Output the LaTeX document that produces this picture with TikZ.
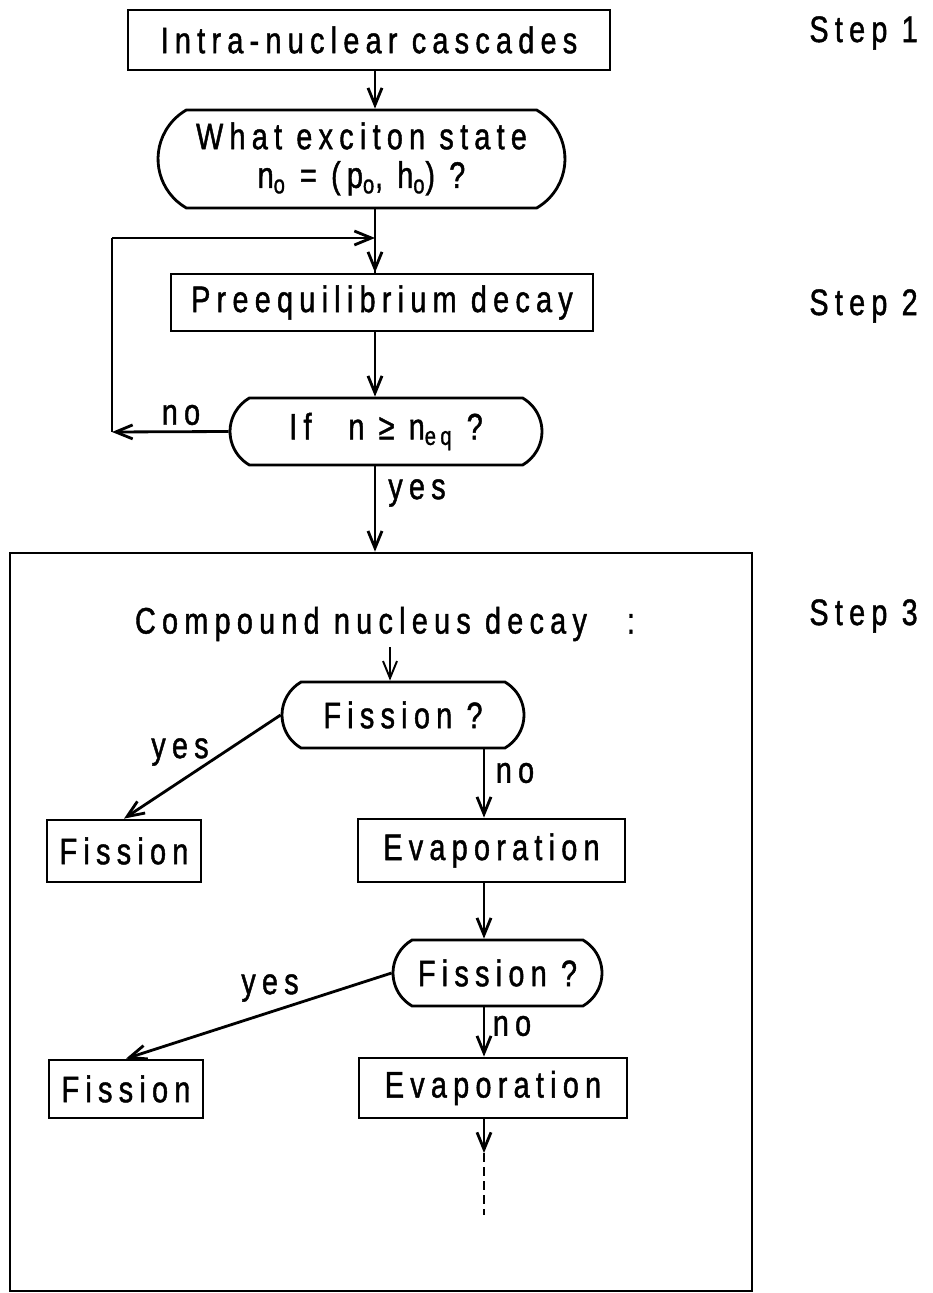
\documentclass[tikz,border=0pt]{standalone}
\usepackage{fontspec}
\setmainfont{Liberation Sans}[FakeStretch=0.78, LetterSpace=17, FakeBold=1.2]
\usetikzlibrary{positioning,arrows.meta,shapes.misc}

\begin{document}
\begin{tikzpicture}[x=0.02cm, y=-0.02cm,
  font=\fontsize{21}{22}\selectfont,
  line width=1.6pt,
  box/.style={draw, rectangle, inner sep=0pt},
  query/.style={draw, rounded rectangle, rounded rectangle arc length=120,
                inner sep=0pt, align=center},
  ar/.style={-{Straight Barb[length=3.4mm, width=2.8mm]}},
  lbl/.style={inner sep=0pt}]
\useasboundingbox (0,0) rectangle (932,1293);
\coordinate (spine) at (375,0);
\node[box, minimum width=9.64cm, minimum height=1.2cm]   (casc)  at (369,40)    {Intra-nuclear cascades};
\node[query, minimum width=8.14cm, minimum height=1.96cm] (excit) at (361.5,159) {What exciton state\\ n\textsubscript{o} = (p\textsubscript{o}, h\textsubscript{o}) ?};
\node[box, minimum width=8.44cm, minimum height=1.14cm]  (preq)  at (382,302.5) {Preequilibrium decay};
\node[query, minimum width=6.24cm, minimum height=1.34cm] (ifneq) at (386,431.5) {If\quad n ≥ n\textsubscript{eq} ?};
\node[box, minimum width=14.84cm, minimum height=14.76cm] (stage) at (381,922)  {};
\node[lbl] (cnd) at (385,624) {Compound nucleus decay\hspace{0.8cm}:};
\node[query, minimum width=4.84cm, minimum height=1.32cm] (fis1)  at (403,715)   {Fission ?};
\node[box, minimum width=3.08cm, minimum height=1.24cm]  (fbox1) at (124,851)   {Fission};
\node[box, minimum width=5.34cm, minimum height=1.26cm]  (evap1) at (491.5,850.5) {Evaporation};
\node[query, minimum width=4.18cm, minimum height=1.32cm] (fis2)  at (497.5,973) {Fission ?};
\node[box, minimum width=3.08cm, minimum height=1.16cm]  (fbox2) at (126,1089)  {Fission};
\node[box, minimum width=5.36cm, minimum height=1.2cm]   (evap2) at (493,1088)  {Evaporation};
\node[lbl, anchor=west] (step1) at (808,33)  {Step 1};
\node[lbl, anchor=west] (step2) at (808,306) {Step 2};
\node[lbl, anchor=west] (step3) at (808,616) {Step 3};
\coordinate (looptop)  at (112,238);
\coordinate (loopleft) at (112,432);
\coordinate (cndtail) at (390,647);
\coordinate (evtail) at (484,1153);
\coordinate (evend)  at (484,1215);
\draw[ar] (casc.south -| spine) -- (excit.north -| spine);
\draw (excit.south -| spine) -- (preq.north -| spine);
\draw[ar] (looptop) -- (looptop -| spine);
\draw[ar] (looptop -| spine) -- (preq.north -| spine);
\draw[ar] (preq.south -| spine) -- (ifneq.north -| spine);
\draw[ar] (ifneq.west) -- (loopleft);
\draw (loopleft) -- (looptop);
\draw[ar] (ifneq.south -| spine) -- (stage.north -| spine);
\draw[ar, line width=1.1pt] (cndtail) -- (fis1.north -| cndtail);
\draw[ar] (fis1.west) -- (fbox1.north);
\draw[ar] (fis1.south -| evtail) -- (evap1.north -| evtail);
\draw[ar] (evap1.south -| evtail) -- (fis2.north -| evtail);
\draw[ar] (fis2.west) -- (fbox2.north);
\draw[ar] (fis2.south -| evtail) -- (evap2.north -| evtail);
\draw[ar] (evap2.south -| evtail) -- (evtail);
\draw[dash pattern=on 0.18cm off 0.1cm] (evtail) -- (evend);
\node[lbl] (no0)  at (181,415) {no};
\node[lbl] (yes0) at (417,493) {yes};
\node[lbl] (yes1) at (180,752) {yes};
\node[lbl] (no1)  at (515,773) {no};
\node[lbl] (yes2) at (270,988) {yes};
\node[lbl] (no2)  at (512,1026) {no};
\end{tikzpicture}
\end{document}
